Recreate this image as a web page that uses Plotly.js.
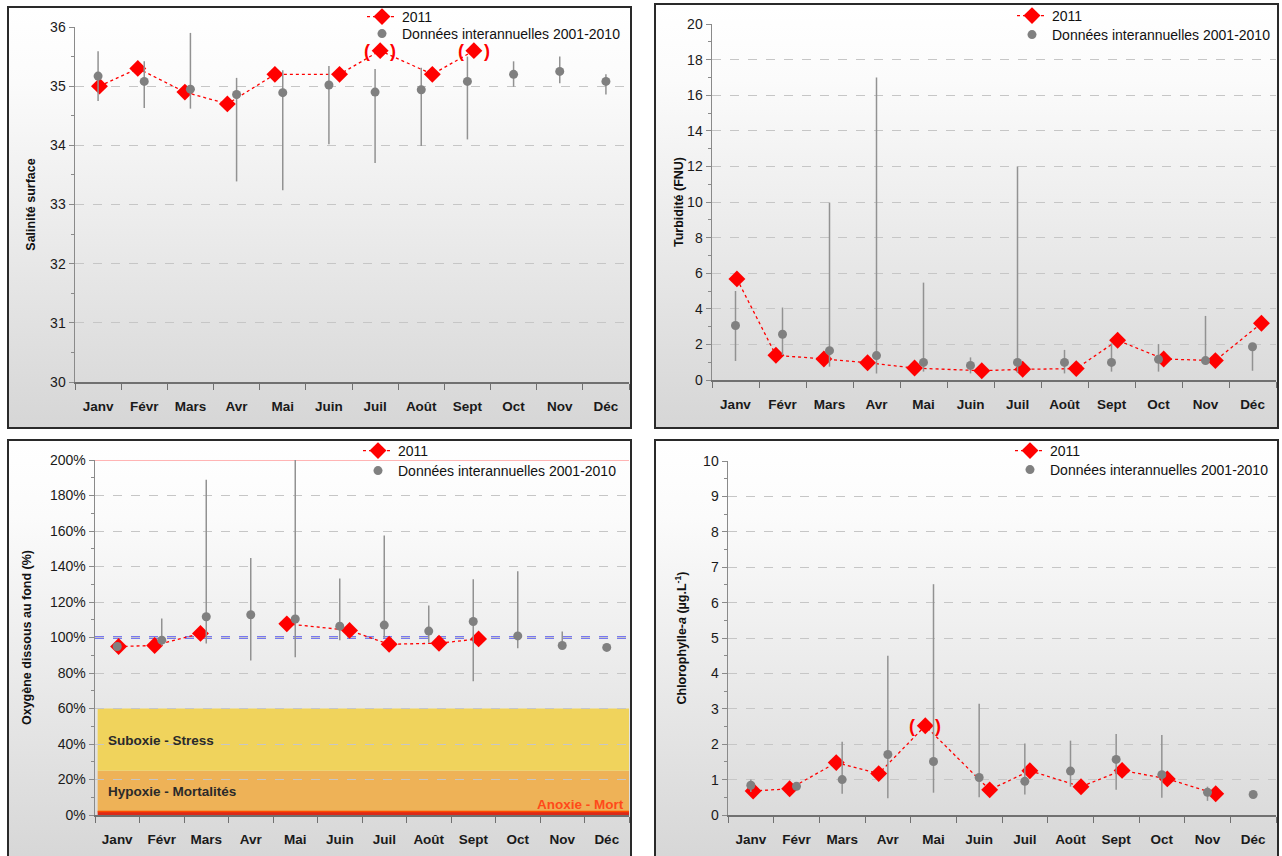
<!DOCTYPE html>
<html><head><meta charset="utf-8">
<script src="https://cdn.plot.ly/plotly-3.0.1.min.js"></script>
<style>
html,body{margin:0;padding:0;background:#fff;overflow:hidden;width:1282px;height:856px;}
.frame{position:absolute;box-sizing:border-box;border:2px solid #2a2a2a;
background:linear-gradient(to bottom,#ffffff 0%,#fbfbfb 18%,#d6d6d6 100%);}
.plot{position:absolute;}
</style></head><body>
<div class="frame" style="left:7px;top:6px;width:625px;height:423px"></div>
<div class="frame" style="left:654px;top:3px;width:625px;height:426px"></div>
<div class="frame" style="left:7px;top:439px;width:625px;height:428px"></div>
<div class="frame" style="left:654px;top:439px;width:625px;height:428px"></div>
<div id="p1" class="plot" style="left:7px;top:0px;width:625px;height:429px"></div>
<div id="p2" class="plot" style="left:654px;top:0px;width:625px;height:429px"></div>
<div id="p3" class="plot" style="left:7px;top:432px;width:625px;height:435px"></div>
<div id="p4" class="plot" style="left:654px;top:432px;width:625px;height:435px"></div>
<script>
const months = ['Janv','Févr','Mars','Avr','Mai','Juin','Juil','Août','Sept','Oct','Nov','Déc'];
const legend2011 = '2011';
const legendInter = 'Données interannuelles 2001-2010';

// Salinité surface
const sal2011X = [0.53,1.36,2.38,3.30,4.33,5.73,6.61,7.74,8.64];
const sal2011  = [35.0,35.3,34.9,34.7,35.2,35.2,35.6,35.2,35.6];
const salBracket = [6,8];
const salMean = [35.17,35.08,34.95,34.86,34.89,35.02,34.90,34.94,35.08,35.20,35.25,35.08];
const salMax  = [35.59,35.42,35.90,35.14,35.27,35.34,35.29,35.31,35.50,35.42,35.50,35.20];
const salMin  = [34.75,34.63,34.62,33.39,33.24,34.02,33.70,33.99,34.10,34.99,35.05,34.86];

// Turbidité
const turb2011X = [0.53,1.36,2.38,3.31,4.31,5.74,6.61,7.75,8.63,9.61,10.71,11.69];
const turb2011  = [5.68,1.39,1.18,0.97,0.67,0.52,0.60,0.64,2.23,1.18,1.09,3.19];
const turbBracket = [];
const turbMean = [3.06,2.57,1.65,1.37,0.99,0.82,0.99,0.99,0.99,1.16,1.09,1.87];
const turbMax  = [5.00,4.07,9.97,17.0,5.47,1.27,12.0,1.69,2.06,2.02,3.60,2.00];
const turbMin  = [1.07,1.40,0.75,0.37,0.47,0.37,0.41,0.37,0.47,0.47,0.85,0.52];

// Oxygène dissous au fond (%)
const oxy2011X = [0.53,1.34,2.37,3.30,4.31,5.72,6.61,7.73,8.62];
const oxy2011  = [94.9,95.5,102.3,null,107.7,104.0,96.2,96.8,99.2];
const oxyBracket = [];
const oxyMean = [94.9,98.5,111.7,112.8,110.4,106.4,107.0,103.6,109.0,100.9,95.5,94.4];
const oxyMax  = [94.9,110.7,188.9,144.8,202.8,133.3,157.4,118.0,132.8,137.3,103.4,94.4];
const oxyMin  = [94.9,95.5,96.6,87.0,88.9,98.5,99.8,97.0,75.3,94.0,94.2,94.4];
const oxyBandLow  = [0,2,25];
const oxyBandHigh = [2,25,60];
const oxyBandColor = ['#dc2a18','#eeb257','#f0d35c'];
const oxyBandLabel = ['Anoxie - Mort','Hypoxie - Mortalités','Suboxie - Stress'];
const oxyBandLabelY = [6,13.5,42];
const oxyRef = 100, oxyTop = 200;

// Chlorophylle-a
const chl2011X = [0.55,1.35,2.37,3.30,4.32,5.73,6.61,7.73,8.63,9.62,10.68];
const chl2011  = [0.68,0.74,1.48,1.17,2.52,0.71,1.25,0.80,1.26,1.02,0.60];
const chlBracket = [4];
const chlMean = [0.84,0.81,1.00,1.71,1.51,1.06,0.95,1.24,1.57,1.14,0.64,0.58];
const chlMax  = [1.00,0.85,2.07,4.50,6.52,3.14,2.02,2.10,2.29,2.26,0.80,0.58];
const chlMin  = [0.65,0.75,0.60,0.47,0.63,0.50,0.58,0.80,0.71,0.49,0.40,0.58];

const FONT = '"Liberation Sans", Arial, sans-serif';

function panel(id, o){
  const centers = months.map((m,i)=>i+0.5);
  const traces = [
    {x:o.x2011, y:o.y2011, name:legend2011, type:'scatter', mode:'lines+markers',
     connectgaps:false, legend:'legend',
     line:{color:'#ff0000', width:1.3, dash:'dot'},
     marker:{symbol:'diamond', size:13, color:'#ff0000'}},
    {x:centers, y:o.mean, name:legendInter, type:'scatter', mode:'markers', legend:'legend2',
     marker:{symbol:'circle', size:9, color:'#808080'},
     error_y:{type:'data', symmetric:false,
       array:o.max.map((v,i)=>v-o.mean[i]),
       arrayminus:o.mean.map((v,i)=>v-o.min[i]),
       width:0, thickness:1.5, color:'#929292'}}
  ];
  const annotations = o.bracket.map(i=>({x:o.x2011[i], y:o.y2011[i], xref:'x', yref:'y',
     text:'(    )', showarrow:false, font:{family:FONT, size:18, color:'#ff0000', weight:'bold'}}));
  const el = document.getElementById(id);
  const W = el.clientWidth, H = el.clientHeight;
  const ph = H - o.m.t - o.m.b, pw = W - o.m.l - o.m.r;
  const divTop = el.offsetTop, divLeft = el.offsetLeft;
  const plotTop = divTop + o.m.t, plotLeft = divLeft + o.m.l;
  const legX = (o.legMarkX - 20 - plotLeft)/pw;
  const legY = r => 1 + (plotTop - (r - 14))/ph;
  const legBase = {x:legX, xanchor:'left', yanchor:'top', bgcolor:'rgba(0,0,0,0)',
      font:{family:FONT, size:14, color:'#111'}, tracegroupgap:0, itemwidth:30};
  const layout = {
    width:W, height:H, margin:Object.assign({pad:0, autoexpand:false}, o.m),
    paper_bgcolor:'rgba(0,0,0,0)', plot_bgcolor:'rgba(0,0,0,0)',
    font:{family:FONT, size:14, color:'#1a1a1a'},
    showlegend:true,
    legend:Object.assign({y:legY(o.legRows[0])}, legBase),
    legend2:Object.assign({y:legY(o.legRows[1])}, legBase),
    xaxis:{range:[0,12], tickvals:centers, ticktext:months, ticks:'outside', ticklen:11,
      tickcolor:'rgba(0,0,0,0)', showgrid:false, zeroline:false, showline:true,
      linecolor:'#707070', linewidth:1.5, fixedrange:true,
      tickfont:{family:FONT, size:13.5, color:'#1a1a1a', weight:'bold'},
      minor:{ticks:'outside', tick0:0, dtick:1, ticklen:6, tickcolor:'#707070', tickwidth:1, showgrid:false}},
    yaxis:Object.assign({showline:true, linecolor:'#8a8a8a', linewidth:1.5, zeroline:false,
      ticks:'outside', ticklen:5, tickcolor:'#8a8a8a',
      showgrid:true, gridcolor:'#c6c6c6', griddash:'dash', gridwidth:1,
      tickfont:{family:FONT, size:14, color:'#1a1a1a'},
      title:{text:o.title, font:{family:FONT, size:12.5, color:'#111', weight:'bold'}, standoff:o.standoff}
    }, o.y),
    annotations:annotations.concat(o.extraAnn||[]),
    shapes:o.shapes||[]
  };
  Plotly.newPlot(id, traces, layout, {staticPlot:true, displayModeBar:false});
}

panel('p1', {x2011:sal2011X, y2011:sal2011, bracket:salBracket, mean:salMean, max:salMax, min:salMin,
  m:{l:68,r:3,t:27,b:47}, legMarkX:382, legRows:[15,32], title:'Salinité surface', standoff:11,
  y:{range:[30,36], dtick:1, tick0:30, minor:{ticks:'outside', dtick:0.5, ticklen:3, tickcolor:'#8a8a8a', showgrid:false}}});

panel('p2', {x2011:turb2011X, y2011:turb2011, bracket:turbBracket, mean:turbMean, max:turbMax, min:turbMin,
  m:{l:58,r:3,t:24,b:49}, legMarkX:1032, legRows:[14,33], title:'Turbidité (FNU)', standoff:0,
  y:{range:[0,20], dtick:2, tick0:0, minor:{ticks:'outside', dtick:1, ticklen:3, tickcolor:'#8a8a8a', showgrid:false}}});

const oxyShapes = oxyBandLow.map((lo,i)=>({type:'rect', xref:'paper', yref:'y', x0:0.005, x1:1, y0:lo, y1:oxyBandHigh[i],
  fillcolor:oxyBandColor[i], line:{width:0}, layer:'below'}));
oxyShapes.push({type:'line', xref:'paper', yref:'y', x0:0.005, x1:1, y0:2, y1:2, line:{color:'#ff4a00', width:1.5}, layer:'below'});
oxyShapes.push({type:'line', xref:'paper', yref:'y', x0:0, x1:1, y0:oxyRef, y1:oxyRef, line:{color:'#7878f0', width:3, dash:'dash'}, layer:'between'});
oxyShapes.push({type:'line', xref:'paper', yref:'y', x0:0, x1:1, y0:oxyTop, y1:oxyTop, line:{color:'#ff6a6a', width:1}, layer:'between'});
const oxyAnn = [
  {xref:'paper', yref:'y', x:0.995, xanchor:'right', y:oxyBandLabelY[0], text:oxyBandLabel[0], showarrow:false,
   font:{family:FONT, size:13.5, color:'#ff4a1a', weight:'bold'}},
  {xref:'paper', yref:'y', x:0.02, xanchor:'left', y:oxyBandLabelY[1], text:oxyBandLabel[1], showarrow:false,
   font:{family:FONT, size:13.5, color:'#2a2a2a', weight:'bold'}},
  {xref:'paper', yref:'y', x:0.02, xanchor:'left', y:oxyBandLabelY[2], text:oxyBandLabel[2], showarrow:false,
   font:{family:FONT, size:13.5, color:'#2a2a2a', weight:'bold'}}
];
panel('p3', {x2011:oxy2011X, y2011:oxy2011, bracket:oxyBracket, mean:oxyMean, max:oxyMax, min:oxyMin,
  m:{l:88,r:3,t:28,b:52}, legMarkX:378, legRows:[449,469], title:'Oxygène dissous au fond (%)', standoff:15,
  shapes:oxyShapes, extraAnn:oxyAnn,
  y:{range:[0,200], dtick:20, tick0:0, ticksuffix:'%', minor:{ticks:'outside', dtick:10, ticklen:3, tickcolor:'#8a8a8a', showgrid:false}}});

panel('p4', {x2011:chl2011X, y2011:chl2011, bracket:chlBracket, mean:chlMean, max:chlMax, min:chlMin,
  m:{l:74,r:3,t:29,b:52}, legMarkX:1030, legRows:[449,468], title:'Chlorophylle-<i>a</i> (µg.L<sup>-1</sup>)', standoff:13,
  y:{range:[0,10], dtick:1, tick0:0, minor:{ticks:'outside', dtick:0.5, ticklen:3, tickcolor:'#8a8a8a', showgrid:false}}});
</script>
</body></html>
